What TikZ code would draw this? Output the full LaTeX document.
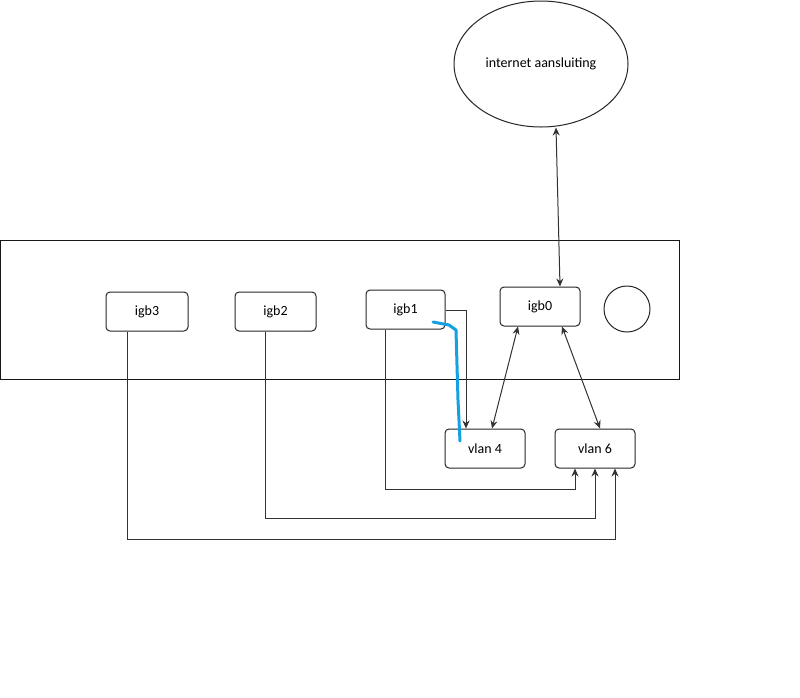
\documentclass[tikz,border=0pt]{standalone}
\usepackage{fontspec}
\setmainfont{Carlito}
\usetikzlibrary{arrows.meta,shapes.geometric}
\definecolor{hl}{RGB}{20,160,225}
\begin{document}
\begin{tikzpicture}[x=1pt,y=-1pt,
  box/.style={draw=black!85,line width=1pt,rounded corners=4pt,minimum width=80pt,minimum height=39pt,inner sep=0pt,font=\fontsize{14}{16}\selectfont},
  con/.style={draw=black!80,line width=1pt},
  arr/.style={con,-{Stealth[length=8pt,width=7pt]}},
  darr/.style={con,{Stealth[length=8pt,width=7pt]}-{Stealth[length=8pt,width=7pt]}}]
\useasboundingbox (0,0) rectangle (800,697);
\fill[white] (0,0) rectangle (800,697);
\node[draw=black!90,line width=1pt,minimum width=679pt,minimum height=139pt,inner sep=0pt] (case) at (339.5,309.5) {};
\node[draw=black!85,line width=1pt,ellipse,minimum width=174pt,minimum height=126pt,inner sep=0pt,font=\fontsize{14}{16}\selectfont] (inet) at (541,64) {internet aansluiting};
\node[box,minimum width=82pt] (igb3) at (147,311.5) {igb3};
\node[box,minimum width=81pt] (igb2) at (275.5,311.5) {igb2};
\node[box,minimum width=79pt] (igb1) at (405.5,309.5) {igb1};
\node[box] (igb0) at (540,306.5) {igb0};
\node[draw=black!85,line width=1pt,circle,minimum size=46pt,inner sep=0pt] (led) at (627,309) {};
\node[box] (vlan4) at (485,448.5) {vlan 4};
\node[box] (vlan6) at (595,448.5) {vlan 6};
\draw[darr] (inet.south -| 556,0) -- (igb0.north -| 560,0);
\draw[arr] (igb1.east |- 0,310) -- (466,310) -- (vlan4.north -| 466,0);
\draw[darr] (igb0.south -| 518,0) -- (vlan4.north -| 492,0);
\draw[darr] (igb0.south -| 562,0) -- (vlan6.north -| 600,0);
\draw[arr] (igb1.south -| 385,0) -- (385,489) -- (575,489) -- (vlan6.south -| 575,0);
\draw[arr] (igb2.south -| 265,0) -- (265,518) -- (595,518) -- (vlan6.south -| 595,0);
\draw[arr] (igb3.south -| 127,0) -- (127,539) -- (615,539) -- (vlan6.south -| 615,0);
\draw[hl,line width=3pt,line cap=round,line join=round] (433,322) -- (449,325) -- (456,330) -- (458,400) -- (460,441);
\end{tikzpicture}
\end{document}
